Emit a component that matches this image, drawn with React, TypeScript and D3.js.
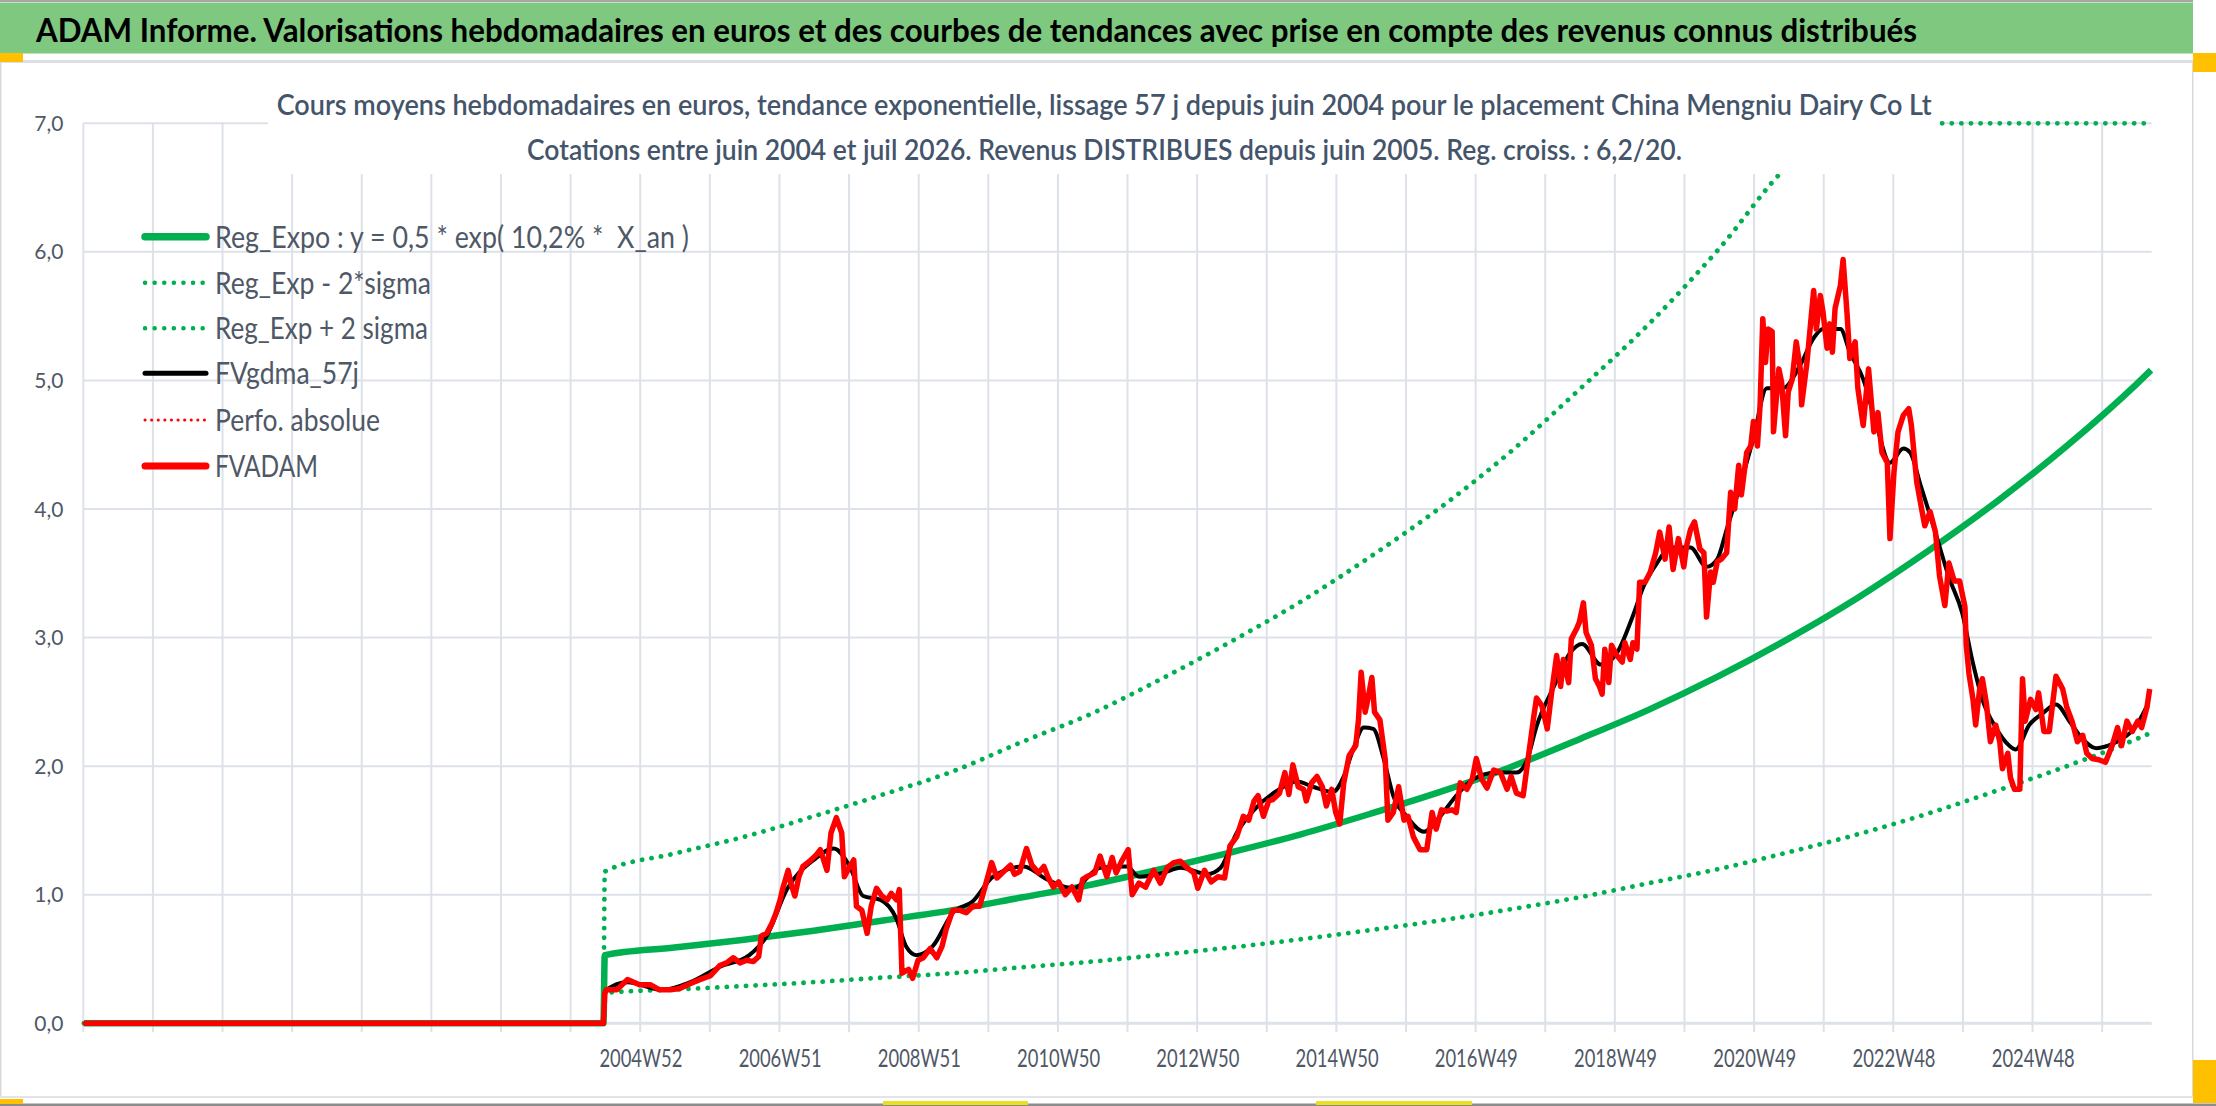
import { useEffect, useRef } from "react"
import * as d3 from "d3"

const W = 2216
const H = 1106

// axe des catégories : une catégorie par semaine, libellés tous les 104, graduations tous les 52
const weekCount = 1545
const firstLabelWeek = 416
const labelStep = 104
const tickStep = 52
const xLabels = ["2004W52", "2006W51", "2008W51", "2010W50", "2012W50", "2014W50", "2016W49", "2018W49", "2020W49", "2022W48", "2024W48"]
const yTicks = [0, 1, 2, 3, 4, 5, 6, 7]
const yLabels = ["0,0", "1,0", "2,0", "3,0", "4,0", "5,0", "6,0", "7,0"]
const yMax = 7

const title = "ADAM Informe. Valorisations hebdomadaires en euros et des courbes de tendances avec prise en compte des revenus connus distribués"
const subtitle1 = "Cours moyens hebdomadaires en euros, tendance exponentielle, lissage 57 j depuis juin 2004 pour le placement China Mengniu Dairy Co Lt"
const subtitle2 = "Cotations entre juin 2004 et juil 2026. Revenus DISTRIBUES depuis juin 2005. Reg. croiss. : 6,2/20."

// [semaine, valeur]
const regExpo: [number, number][] = [
  [0, 0], [388, 0], [389, 0.53], [441, 0.59], [493, 0.65], [545, 0.72], [597, 0.8], [649, 0.88], [701, 0.98], [753, 1.08],
  [805, 1.2], [857, 1.33], [909, 1.47], [961, 1.63], [1013, 1.8], [1065, 1.99], [1117, 2.21], [1169, 2.44], [1221, 2.7],
  [1273, 2.99], [1325, 3.31], [1377, 3.67], [1429, 4.06], [1481, 4.49], [1533, 4.97], [1544, 5.08],
]

const regLow: [number, number][] = [
  [0, 0], [388, 0], [389, 0.236], [441, 0.263], [493, 0.29], [545, 0.32], [597, 0.356], [649, 0.39], [701, 0.436], [753, 0.48],
  [805, 0.534], [857, 0.59], [909, 0.654], [961, 0.725], [1013, 0.8], [1065, 0.886], [1117, 0.98], [1169, 1.09], [1221, 1.2],
  [1273, 1.33], [1325, 1.47], [1377, 1.63], [1429, 1.81], [1481, 2.0], [1533, 2.21], [1544, 2.26],
]

const regHigh: [number, number][] = [
  [0, 0], [388, 0], [389, 1.18], [441, 1.32], [493, 1.45], [545, 1.61], [597, 1.78], [649, 1.96], [701, 2.19], [753, 2.41],
  [805, 2.68], [857, 2.97], [909, 3.28], [961, 3.63], [1013, 4.01], [1065, 4.44], [1117, 4.93], [1169, 5.44], [1221, 6.02],
  [1273, 6.67], [1325, 7.38], [1377, 8.2], [1429, 9.1], [1481, 10.0], [1544, 11.3],
]

const fvgdma: [number, number][] = [
  [0, 0], [388, 0], [389, 0.25], [406, 0.32], [432, 0.26], [453, 0.32], [475, 0.44], [497, 0.53], [510, 0.68], [525, 1.04],
  [545, 1.27], [560, 1.36], [572, 1.22], [582, 0.99], [595, 0.96], [607, 0.81], [614, 0.6], [622, 0.53], [634, 0.6], [649, 0.86],
  [664, 0.95], [679, 1.14], [702, 1.22], [719, 1.12], [739, 1.05], [759, 1.21], [779, 1.22], [788, 1.14], [806, 1.17], [819, 1.21],
  [839, 1.16], [849, 1.21], [861, 1.48], [874, 1.66], [893, 1.82], [906, 1.88], [918, 1.84], [933, 1.8], [941, 1.92], [948, 2.13],
  [956, 2.3], [963, 2.29], [971, 2.05], [978, 1.77], [988, 1.61], [1001, 1.49], [1013, 1.61], [1025, 1.77], [1038, 1.9], [1055, 1.95],
  [1070, 1.95], [1078, 2.05], [1085, 2.31], [1098, 2.62], [1110, 2.88], [1119, 2.95], [1133, 2.79], [1145, 2.88], [1157, 3.17],
  [1165, 3.4], [1175, 3.58], [1185, 3.7], [1200, 3.7], [1212, 3.55], [1220, 3.61], [1227, 3.84], [1237, 4.18], [1247, 4.55],
  [1257, 4.94], [1269, 4.94], [1282, 5.12], [1292, 5.33], [1299, 5.4], [1312, 5.4], [1319, 5.22], [1329, 5.01], [1339, 4.65],
  [1349, 4.36], [1359, 4.47], [1364, 4.44], [1372, 4.18], [1382, 3.85], [1393, 3.47], [1403, 3.19], [1411, 2.8], [1418, 2.52],
  [1428, 2.3], [1438, 2.16], [1443, 2.13], [1453, 2.32], [1463, 2.41], [1473, 2.48], [1483, 2.35], [1493, 2.21], [1503, 2.14],
  [1512, 2.16], [1522, 2.21], [1532, 2.3], [1542, 2.49],
]

const fvadam: [number, number][] = [
  [0, 0], [388, 0],
  [389, 0.23], [390, 0.26], [398, 0.26], [406, 0.34], [415, 0.3], [423, 0.3], [430, 0.26], [438, 0.26], [445, 0.27], [453, 0.31],
  [460, 0.34], [468, 0.37], [475, 0.45], [480, 0.47], [485, 0.51], [490, 0.47], [495, 0.49], [500, 0.48], [504, 0.52], [506, 0.68],
  [510, 0.7], [514, 0.78], [517, 0.86], [520, 0.96], [522, 1.05], [526, 1.19], [528, 1.09], [531, 0.99], [534, 1.14], [537, 1.22],
  [542, 1.26], [547, 1.31], [550, 1.35], [555, 1.19], [558, 1.48], [562, 1.6], [566, 1.48], [568, 1.14], [572, 1.22], [575, 1.27],
  [577, 0.91], [581, 0.88], [585, 0.7], [588, 0.91], [592, 1.05], [596, 0.99], [600, 0.96], [603, 1.01], [607, 0.96], [609, 1.04],
  [611, 0.39], [616, 0.42], [619, 0.35], [623, 0.49], [627, 0.51], [632, 0.58], [637, 0.51], [641, 0.6], [644, 0.73], [649, 0.88],
  [654, 0.88], [659, 0.86], [664, 0.91], [669, 0.91], [673, 1.06], [678, 1.25], [682, 1.13], [687, 1.18], [692, 1.23], [695, 1.16],
  [699, 1.18], [704, 1.36], [708, 1.23], [713, 1.17], [717, 1.22], [720, 1.14], [724, 1.06], [728, 1.1], [733, 1.0], [738, 1.06],
  [743, 0.96], [746, 1.12], [749, 1.14], [755, 1.17], [759, 1.3], [764, 1.14], [768, 1.29], [771, 1.17], [775, 1.26], [780, 1.35],
  [783, 1.0], [788, 1.09], [793, 1.06], [799, 1.19], [804, 1.09], [809, 1.21], [814, 1.25], [819, 1.26], [824, 1.21], [829, 1.17],
  [832, 1.05], [837, 1.19], [842, 1.1], [847, 1.14], [852, 1.13], [856, 1.38], [861, 1.45], [866, 1.61], [870, 1.58], [874, 1.73],
  [877, 1.77], [881, 1.61], [885, 1.73], [888, 1.74], [893, 1.79], [897, 1.95], [900, 1.78], [903, 2.01], [907, 1.84], [911, 1.82],
  [913, 1.73], [917, 1.87], [921, 1.92], [925, 1.84], [928, 1.69], [932, 1.82], [935, 1.64], [938, 1.55], [941, 1.87], [945, 2.08],
  [950, 2.16], [952, 2.36], [954, 2.73], [957, 2.42], [959, 2.52], [962, 2.69], [964, 2.42], [968, 2.36], [972, 2.05], [974, 1.58],
  [978, 1.64], [982, 1.84], [986, 1.58], [989, 1.61], [993, 1.45], [998, 1.35], [1003, 1.35], [1007, 1.64], [1010, 1.51], [1014, 1.66],
  [1018, 1.65], [1022, 1.66], [1025, 1.64], [1028, 1.87], [1033, 1.82], [1037, 1.9], [1040, 2.06], [1044, 1.9], [1048, 1.83],
  [1053, 1.97], [1058, 1.95], [1063, 1.82], [1066, 1.92], [1070, 1.79], [1075, 1.77], [1079, 2.08], [1083, 2.39], [1085, 2.53],
  [1089, 2.47], [1093, 2.29], [1096, 2.55], [1100, 2.86], [1103, 2.62], [1105, 2.83], [1109, 2.65], [1111, 2.99], [1115, 3.07],
  [1117, 3.12], [1120, 3.27], [1122, 3.04], [1126, 2.94], [1129, 2.68], [1132, 2.62], [1134, 2.56], [1136, 2.91], [1139, 2.65],
  [1141, 2.94], [1145, 2.86], [1149, 2.81], [1151, 2.96], [1155, 2.83], [1157, 2.96], [1160, 2.91], [1162, 3.43], [1166, 3.43],
  [1170, 3.51], [1174, 3.66], [1177, 3.82], [1181, 3.61], [1184, 3.86], [1187, 3.53], [1191, 3.77], [1195, 3.55], [1197, 3.71],
  [1200, 3.84], [1203, 3.9], [1207, 3.69], [1210, 3.66], [1212, 3.16], [1215, 3.51], [1217, 3.43], [1220, 3.59], [1223, 3.61],
  [1227, 3.66], [1230, 4.13], [1233, 4.0], [1236, 4.34], [1238, 4.11], [1242, 4.44], [1245, 4.49], [1247, 4.68], [1250, 4.49],
  [1252, 4.81], [1254, 5.48], [1256, 5.14], [1258, 5.4], [1261, 5.38], [1262, 4.6], [1266, 5.09], [1268, 4.99], [1271, 4.57],
  [1273, 4.91], [1276, 5.01], [1279, 5.3], [1282, 5.09], [1283, 4.81], [1287, 5.14], [1292, 5.7], [1294, 5.4], [1297, 5.66],
  [1299, 5.53], [1302, 5.25], [1304, 5.44], [1306, 5.22], [1308, 5.56], [1312, 5.74], [1314, 5.94], [1317, 5.51], [1319, 5.17],
  [1323, 5.3], [1325, 4.94], [1329, 4.65], [1333, 5.09], [1337, 4.6], [1340, 4.75], [1343, 4.44], [1347, 4.36], [1349, 3.77],
  [1352, 4.29], [1355, 4.6], [1359, 4.73], [1363, 4.78], [1365, 4.65], [1369, 4.21], [1373, 3.98], [1375, 3.87], [1379, 3.98],
  [1383, 3.82], [1386, 3.48], [1390, 3.25], [1393, 3.58], [1397, 3.44], [1401, 3.44], [1405, 3.24], [1406, 2.94], [1408, 2.72],
  [1411, 2.52], [1413, 2.32], [1416, 2.6], [1418, 2.68], [1421, 2.49], [1424, 2.19], [1428, 2.32], [1431, 2.19], [1433, 1.98],
  [1437, 2.1], [1439, 1.91], [1442, 1.82], [1446, 1.82], [1448, 2.68], [1450, 2.35], [1454, 2.52], [1458, 2.44], [1460, 2.57],
  [1464, 2.27], [1468, 2.27], [1473, 2.7], [1478, 2.6], [1481, 2.46], [1485, 2.35], [1489, 2.19], [1493, 2.24], [1496, 2.1],
  [1500, 2.06], [1505, 2.05], [1510, 2.03], [1515, 2.16], [1519, 2.3], [1522, 2.16], [1526, 2.35], [1530, 2.27], [1534, 2.35],
  [1537, 2.3], [1541, 2.46], [1543, 2.6],
]

const legendLabels = [
  "Reg_Expo : y = 0,5 * exp( 10,2% *  X_an )",
  "Reg_Exp - 2*sigma",
  "Reg_Exp + 2 sigma",
  "FVgdma_57j",
  "Perfo. absolue",
  "FVADAM",
]

const FONT = "Lato, 'Open Sans', sans-serif"
const GREEN = "#00b050"
const RED = "#ff0000"
const GRID = "#dde1e8"
const AXIS_TEXT = "#4f5866"

export default function App() {
  const svgRef = useRef<SVGSVGElement>(null)

  useEffect(() => {
    if (!svgRef.current) return
    const svg = d3.select(svgRef.current)
    svg.selectAll("*").remove()

    const plot = { left: 83.3, right: 2151.7, top: 123.3, bottom: 1023.3 }

    const x = d3.scaleLinear().domain([0, weekCount]).range([plot.left, plot.right])
    const y = d3.scaleLinear().domain([0, yMax]).range([plot.bottom, plot.top])

    // cadre
    svg.append("rect").attr("width", W).attr("height", H).attr("fill", "#ffffff")
    svg.append("rect").attr("x", 0).attr("y", 0).attr("width", 2193).attr("height", 2).attr("fill", "#a6a6a6")
    svg.append("rect").attr("x", 0).attr("y", 2.5).attr("width", 2193).attr("height", 51).attr("fill", "#7ec87f")
    svg.append("rect").attr("x", 0).attr("y", 60).attr("width", 2193).attr("height", 3).attr("fill", "#dcdfe6")
    svg.append("rect").attr("x", 0).attr("y", 53).attr("width", 23).attr("height", 9).attr("fill", "#ffc000")
    svg.append("rect").attr("x", 2192).attr("y", 63).attr("width", 1.5).attr("height", 1034).attr("fill", "#d9d9d9")
    svg.append("rect").attr("x", 0).attr("y", 63).attr("width", 1.5).attr("height", 1034).attr("fill", "#d9d9d9")
    svg.append("rect").attr("x", 0).attr("y", 1096).attr("width", 2193).attr("height", 2).attr("fill", "#e2e4ea")
    svg.append("rect").attr("x", 0).attr("y", 1103.5).attr("width", W).attr("height", 2.5).attr("fill", "#8c8c8c")
    svg.append("rect").attr("x", 2193).attr("y", 53).attr("width", 23).attr("height", 19).attr("fill", "#ffc000")
    svg.append("rect").attr("x", 2193).attr("y", 1060).attr("width", 23).attr("height", 43).attr("fill", "#ffc000")
    svg.append("rect").attr("x", 0).attr("y", 1099).attr("width", 23).attr("height", 5).attr("fill", "#ffc000")
    svg.append("rect").attr("x", 883).attr("y", 1101).attr("width", 145).attr("height", 4).attr("fill", "#e8e020")
    svg.append("rect").attr("x", 1316).attr("y", 1101).attr("width", 156).attr("height", 4).attr("fill", "#e8e020")

    svg.append("text")
      .attr("x", 36)
      .attr("y", 41.7)
      .attr("textLength", 1881)
      .attr("lengthAdjust", "spacingAndGlyphs")
      .style("font-family", FONT)
      .style("font-weight", "700")
      .style("font-size", "32px")
      .style("fill", "#000000")
      .text(title)

    // grille
    const grid = svg.append("g")
    grid.selectAll("line.h")
      .data(yTicks)
      .join("line")
      .attr("class", "h")
      .attr("x1", plot.left)
      .attr("x2", plot.right)
      .attr("y1", (d) => y(d))
      .attr("y2", (d) => y(d))
      .attr("stroke", GRID)
      .attr("stroke-width", (d) => (d === 0 ? 3 : 2))

    const tickWeeks = d3.range(0, weekCount, tickStep)
    grid.selectAll("line.v")
      .data(tickWeeks)
      .join("line")
      .attr("class", "v")
      .attr("x1", (d) => x(d))
      .attr("x2", (d) => x(d))
      .attr("y1", plot.top)
      .attr("y2", plot.bottom + 9)
      .attr("stroke", GRID)
      .attr("stroke-width", 2)

    // axe Y
    svg.append("g")
      .selectAll("text")
      .data(yTicks)
      .join("text")
      .attr("x", 63.5)
      .attr("y", (d) => y(d) + 7.5)
      .attr("text-anchor", "end")
      .style("font-family", FONT)
      .style("font-size", "21px")
      .style("fill", AXIS_TEXT)
      .text((d, i) => yLabels[i])

    // axe X
    svg.append("g")
      .selectAll("text")
      .data(xLabels)
      .join("text")
      .attr("x", (d, i) => x(firstLabelWeek + i * labelStep + 0.5) - 41.5)
      .attr("y", 1067)
      .attr("textLength", 83)
      .attr("lengthAdjust", "spacingAndGlyphs")
      .style("font-family", FONT)
      .style("font-size", "25px")
      .style("fill", AXIS_TEXT)
      .text((d) => d)

    // séries
    const lineSmooth = d3
      .line<[number, number]>()
      .x((d) => x(d[0] + 0.5))
      .y((d) => y(Math.min(d[1], yMax)))
      .curve(d3.curveMonotoneX)

    const lineRaw = d3
      .line<[number, number]>()
      .x((d) => x(d[0] + 0.5))
      .y((d) => y(Math.min(d[1], yMax)))

    const series = svg.append("g").attr("fill", "none")

    series.append("path").datum(regExpo).attr("d", lineSmooth)
      .attr("stroke", GREEN).attr("stroke-width", 6.5).attr("stroke-linejoin", "round")

    series.append("path").datum(regLow).attr("d", lineSmooth)
      .attr("stroke", GREEN).attr("stroke-width", 4.8).attr("stroke-linecap", "round").attr("stroke-dasharray", "0.1 9.5")

    series.append("path").datum(regHigh).attr("d", lineSmooth)
      .attr("stroke", GREEN).attr("stroke-width", 4.8).attr("stroke-linecap", "round").attr("stroke-dasharray", "0.1 9.5")

    series.append("path").datum(fvgdma).attr("d", lineSmooth)
      .attr("stroke", "#000000").attr("stroke-width", 4).attr("stroke-linejoin", "round")

    series.append("path").datum(fvadam).attr("d", lineRaw)
      .attr("stroke", RED).attr("stroke-width", 3).attr("stroke-linecap", "round").attr("stroke-dasharray", "0.1 6")

    series.append("path").datum(fvadam).attr("d", lineRaw)
      .attr("stroke", RED).attr("stroke-width", 5.5).attr("stroke-linejoin", "round")

    // titre du graphique
    svg.append("rect").attr("x", 268).attr("y", 66).attr("width", 1672).attr("height", 108).attr("fill", "#ffffff")
    svg.append("text")
      .attr("x", 276.7)
      .attr("y", 115)
      .attr("textLength", 1655)
      .attr("lengthAdjust", "spacingAndGlyphs")
      .style("font-family", FONT)
      .style("font-weight", "600")
      .style("font-size", "28px")
      .style("fill", "#44546a")
      .text(subtitle1)
    svg.append("text")
      .attr("x", 527)
      .attr("y", 160)
      .attr("textLength", 1155)
      .attr("lengthAdjust", "spacingAndGlyphs")
      .style("font-family", FONT)
      .style("font-weight", "600")
      .style("font-size", "28px")
      .style("fill", "#44546a")
      .text(subtitle2)

    // légende
    const legendY = [236.7, 282.7, 328.3, 373.3, 420, 466]
    const legendLen = [474, 216, 213, 144, 165, 103]
    const legendStroke = [
      { c: GREEN, w: 7.5, dash: null, cap: "round" },
      { c: GREEN, w: 4.5, dash: "0.1 9.5", cap: "round" },
      { c: GREEN, w: 4.5, dash: "0.1 9.5", cap: "round" },
      { c: "#000000", w: 5, dash: null, cap: "round" },
      { c: RED, w: 3, dash: "0.1 6.5", cap: "round" },
      { c: RED, w: 7, dash: null, cap: "round" },
    ]
    const legend = svg.append("g")
    legendLabels.forEach((label, i) => {
      const s = legendStroke[i]
      const l = legend.append("line")
        .attr("x1", 145).attr("x2", 206)
        .attr("y1", legendY[i]).attr("y2", legendY[i])
        .attr("stroke", s.c).attr("stroke-width", s.w).attr("stroke-linecap", s.cap)
      if (s.dash) l.attr("stroke-dasharray", s.dash)
      legend.append("text")
        .attr("x", 215)
        .attr("y", legendY[i] + 11)
        .attr("textLength", legendLen[i])
        .attr("lengthAdjust", "spacingAndGlyphs")
        .style("font-family", FONT)
        .style("font-size", "30px")
        .style("white-space", "pre")
        .style("fill", AXIS_TEXT)
        .text(label)
    })
  }, [])

  return (
    <svg
      ref={svgRef}
      width={W}
      height={H}
      viewBox={`0 0 ${W} ${H}`}
      style={{ position: "fixed", left: 0, top: 0, display: "block" }}
    />
  )
}
